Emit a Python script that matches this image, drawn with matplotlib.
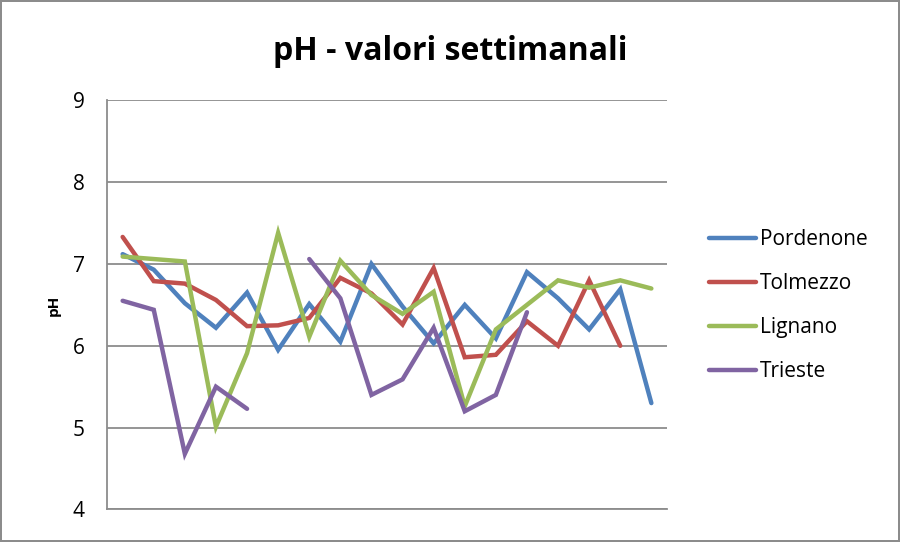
import numpy as np
import matplotlib
matplotlib.use("Agg")
import matplotlib.pyplot as plt

# weekly pH values (18 weeks), NaN = missing measurement
weeks = list(range(1, 19))
pordenone = [7.12, 6.93, 6.52, 6.22, 6.65, 5.95, 6.51, 6.05, 7.00,
             6.48, 6.03, 6.50, 6.09, 6.90, 6.58, 6.20, 6.69, 5.30]
tolmezzo = [7.33, 6.79, 6.76, 6.56, 6.24, 6.25, 6.34, 6.83, 6.64,
            6.26, 6.95, 5.86, 5.89, 6.30, 6.00, 6.80, 6.00, np.nan]
lignano = [7.09, 7.06, 7.03, 5.01, 5.91, 7.38, 6.11, 7.04, 6.62,
           6.39, 6.66, 5.26, 6.20, 6.50, 6.80, 6.71, 6.80, 6.70]
trieste = [6.55, 6.44, 4.68, 5.50, 5.23, np.nan, 7.06, 6.58, 5.40,
           5.59, 6.22, 5.20, 5.40, 6.41, np.nan, np.nan, np.nan, np.nan]

series = [
    ("Pordenone", pordenone, "#4F81BD"),
    ("Tolmezzo", tolmezzo, "#C0504D"),
    ("Lignano", lignano, "#9BBB59"),
    ("Trieste", trieste, "#8064A2"),
]

plt.rcParams["font.family"] = ["Open Sans", "DejaVu Sans"]

fig = plt.figure(figsize=(9, 5.42), dpi=100)
fig.patch.set_facecolor("white")
fig.patch.set_edgecolor("#8c8c8c")
fig.patch.set_linewidth(1.5)

ax = fig.add_axes([0.119, 0.06, 0.622, 0.755])

for name, vals, color in series:
    ax.plot(weeks, vals, color=color, lw=3.2, label=name,
            solid_joinstyle="miter", solid_capstyle="round")

ax.set_xlim(0.5, 18.5)
ax.set_ylim(4, 9)
ax.set_yticks([4, 5, 6, 7, 8, 9])
ax.set_xticks([])
ax.yaxis.grid(True, color="#8c8c8c", lw=1.3)
ax.set_axisbelow(True)
for side in ["top", "right"]:
    ax.spines[side].set_visible(False)
ax.spines["left"].set_color("#8c8c8c")
ax.spines["bottom"].set_color("#8c8c8c")
ax.spines["left"].set_linewidth(1.3)
ax.spines["bottom"].set_linewidth(1.3)
ax.tick_params(axis="y", length=0, pad=16, labelsize=15)

ax.set_ylabel("pH", fontsize=11, fontweight="bold", labelpad=9)

fig.text(0.5, 0.905, "pH - valori settimanali", ha="center", va="center",
         fontsize=23, fontweight="bold")

fig.legend(loc="upper left", bbox_to_anchor=(0.778, 0.592), frameon=False,
           fontsize=15, handlelength=2.3, handletextpad=0.15, labelspacing=1.1,
           borderaxespad=0)

fig.savefig("out.png", dpi=100)
